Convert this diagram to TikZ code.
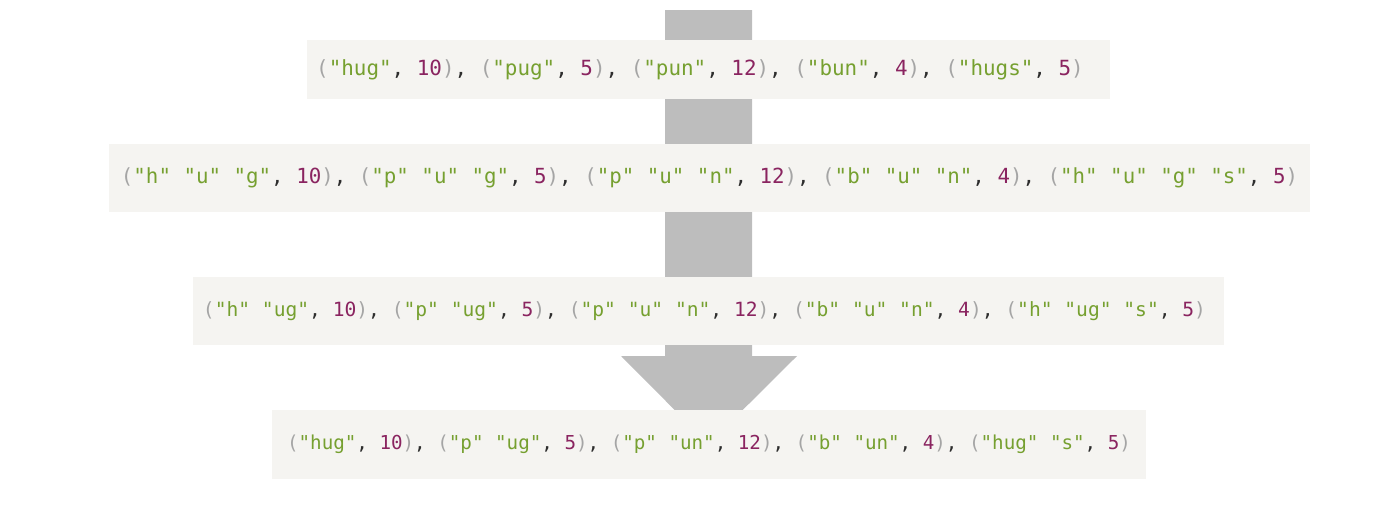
\documentclass[tikz,border=0pt]{standalone}
\usepackage{fontspec}
\newfontfamily\codefont{DejaVu Sans Mono}
\usetikzlibrary{positioning}

\definecolor{boxgray}{RGB}{245,244,241}
\definecolor{arrowgray}{RGB}{189,189,189}
\definecolor{strgreen}{RGB}{118,160,48}
\definecolor{numpurple}{RGB}{138,36,96}
\definecolor{pargray}{RGB}{165,165,165}
\definecolor{commadark}{RGB}{45,45,45}

\newcommand{\tk}[1]{\textcolor{strgreen}{"#1"}}
\newcommand{\nm}[1]{\textcolor{numpurple}{#1}}
\newcommand{\cm}{\textcolor{commadark}{,}}
\newcommand{\pr}[2]{\textcolor{pargray}{(}#1\cm\ \nm{#2}\textcolor{pargray}{)}}

\tikzset{
  codebox/.style={fill=boxgray, inner sep=0pt},
  codetext/.style={inner sep=0pt, font=\codefont\fontsize{#1}{12}\selectfont},
}

\begin{document}
\begin{tikzpicture}[x=0.5pt, y=-0.5pt]

        \useasboundingbox (0,0) rectangle (1400,514);

        % big arrow behind the boxes
        \coordinate (top) at (708.5,10);
        \coordinate (tip) at (708.5,444);
        \fill[arrowgray] (top) ++(-43.5,0) -- ++(87,0) -- (752,356) -- (797,356)
            -- (tip) -- (621,356) -- (665,356) -- cycle;

        % the four rows
        \node[codebox, minimum width=401.5pt, minimum height=29.5pt] (words) at (708.5,69.5) {};
        \node[codebox, minimum width=600.5pt, minimum height=34pt] (chars) at (709.5,178) {};
        \node[codebox, minimum width=515.5pt, minimum height=34pt] (mergeone) at (708.5,311) {};
        \node[codebox, minimum width=437pt, minimum height=34.5pt] (mergetwo) at (709,444.5) {};

        \node[codetext=10.45] (wordstext) at ([xshift=-4.25pt]words.center)
            {\pr{\tk{hug}}{10}\cm\ \pr{\tk{pug}}{5}\cm\ \pr{\tk{pun}}{12}\cm\ \pr{\tk{bun}}{4}\cm\ \pr{\tk{hugs}}{5}};
        \node[codetext=10.4] (charstext) at (chars.center)
            {\pr{\tk{h} \tk{u} \tk{g}}{10}\cm\ \pr{\tk{p} \tk{u} \tk{g}}{5}\cm\ \pr{\tk{p} \tk{u} \tk{n}}{12}\cm\ \pr{\tk{b} \tk{u} \tk{n}}{4}\cm\ \pr{\tk{h} \tk{u} \tk{g} \tk{s}}{5}};
        \node[codetext=9.8] (mergeonetext) at ([xshift=-2pt]mergeone.center)
            {\pr{\tk{h} \tk{ug}}{10}\cm\ \pr{\tk{p} \tk{ug}}{5}\cm\ \pr{\tk{p} \tk{u} \tk{n}}{12}\cm\ \pr{\tk{b} \tk{u} \tk{n}}{4}\cm\ \pr{\tk{h} \tk{ug} \tk{s}}{5}};
        \node[codetext=9.6] (mergetwotext) at (mergetwo.center)
            {\pr{\tk{hug}}{10}\cm\ \pr{\tk{p} \tk{ug}}{5}\cm\ \pr{\tk{p} \tk{un}}{12}\cm\ \pr{\tk{b} \tk{un}}{4}\cm\ \pr{\tk{hug} \tk{s}}{5}};

\end{tikzpicture}
\end{document}
